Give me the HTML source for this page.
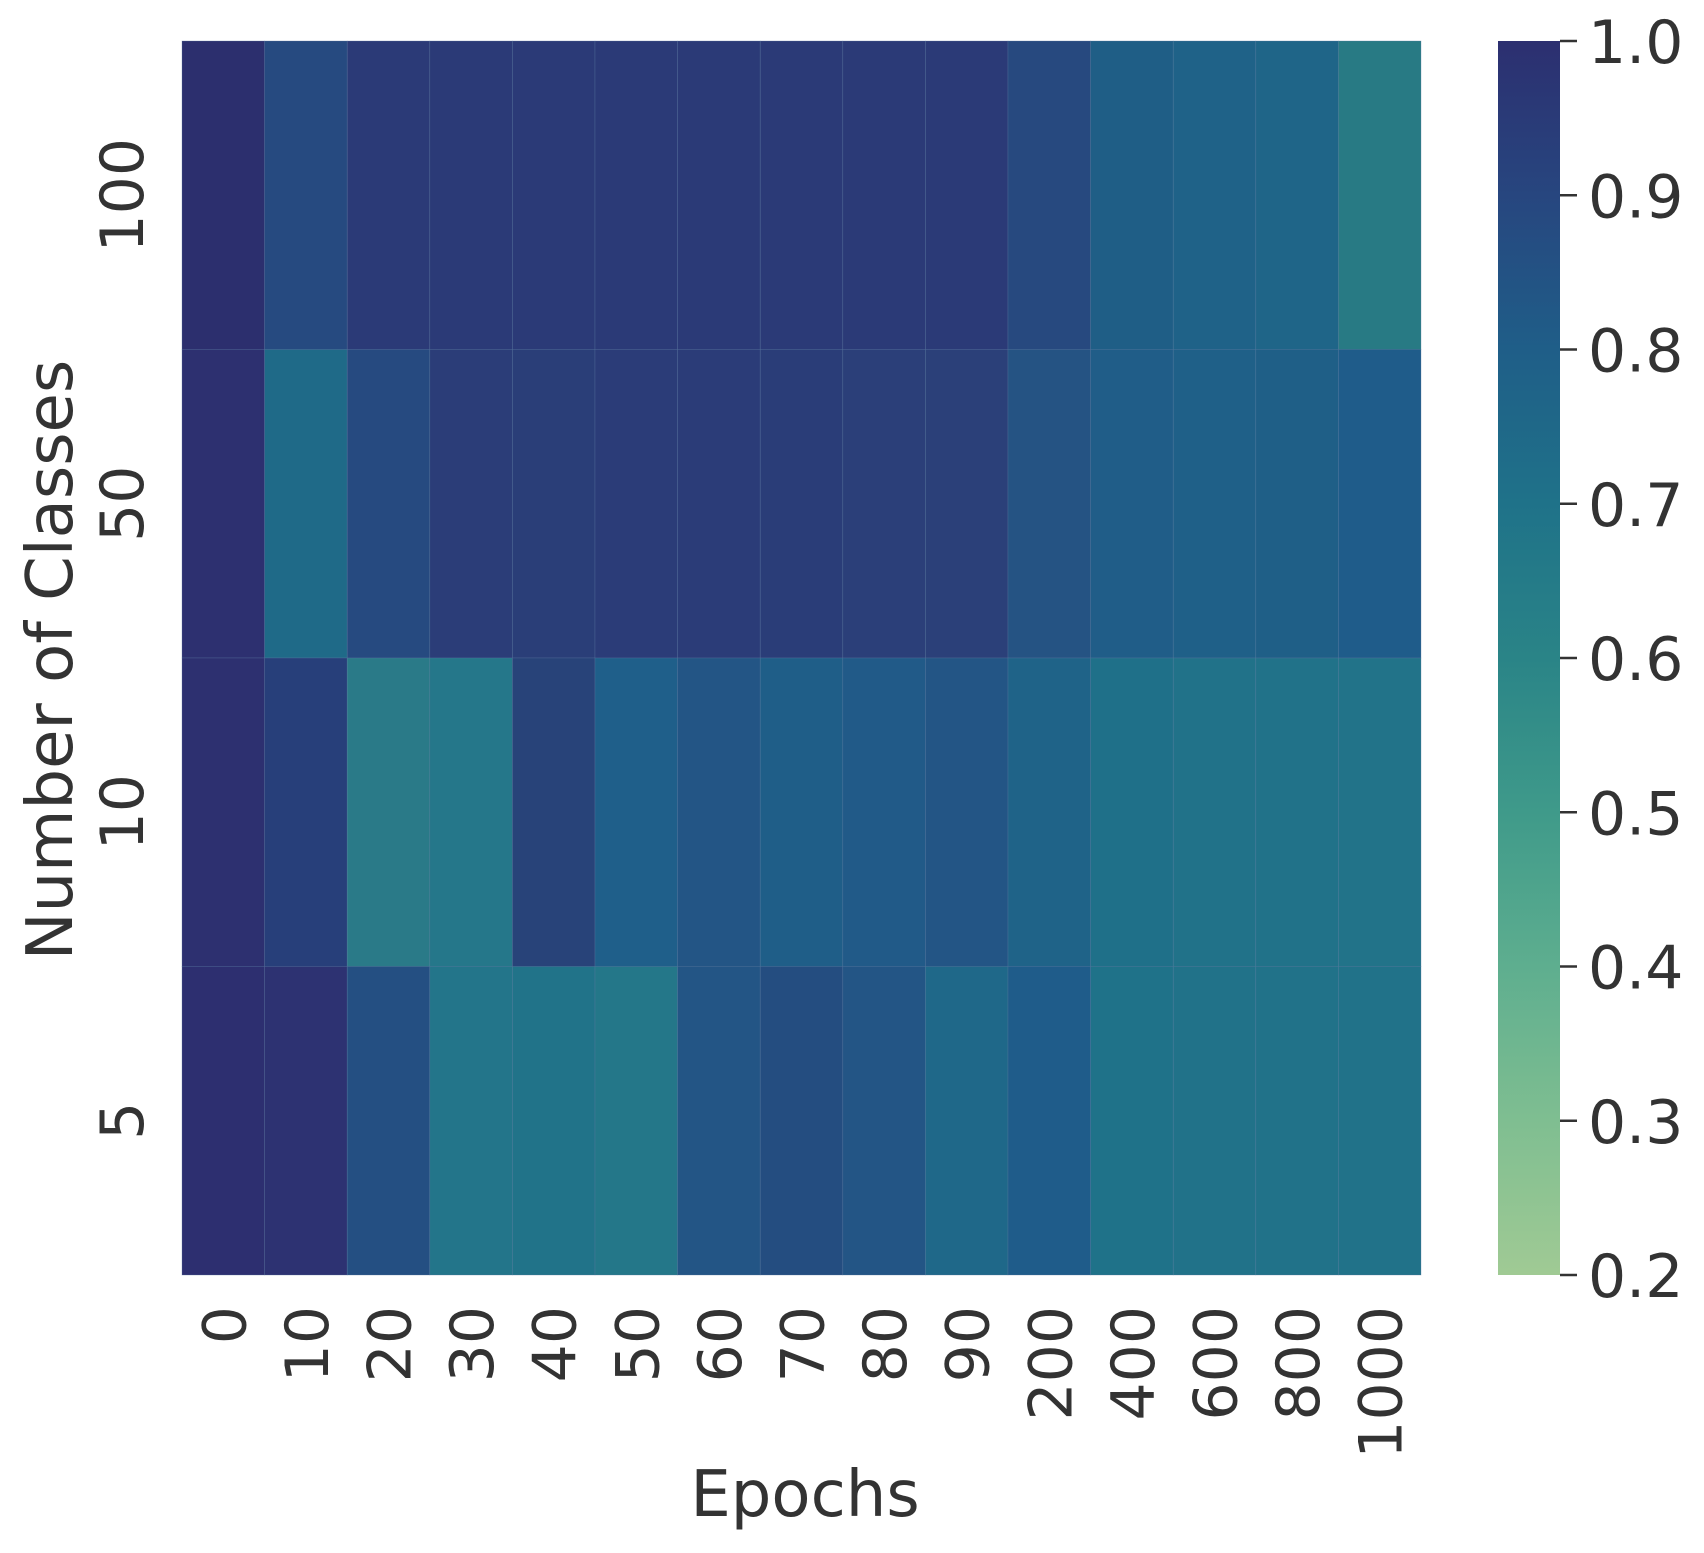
<!DOCTYPE html>
<html><head><meta charset="utf-8"><style>html,body{margin:0;padding:0;background:#fff}svg{display:block}</style></head>
<body>
<svg width="1704" height="1553" xmlns="http://www.w3.org/2000/svg" font-family="DejaVu Sans, Liberation Sans, sans-serif" fill="#333">
<defs>
<linearGradient id="cb" x1="0" y1="0" x2="0" y2="1">
<stop offset="0" stop-color="#2c2f70"/>
<stop offset="0.125" stop-color="#27467f"/>
<stop offset="0.25" stop-color="#1f5e88"/>
<stop offset="0.375" stop-color="#1f7289"/>
<stop offset="0.5" stop-color="#2a8487"/>
<stop offset="0.625" stop-color="#3f9a8a"/>
<stop offset="0.75" stop-color="#5eae8f"/>
<stop offset="0.875" stop-color="#7fbe91"/>
<stop offset="1" stop-color="#a0ca94"/>
</linearGradient>
</defs>
<g id="cells" stroke="#5a7aa0" stroke-width="0.6" stroke-opacity="0.5"></g>
<rect x="1498" y="41" width="62" height="1234" fill="url(#cb)"/>
<g id="cbt" stroke="#333" stroke-width="2.5"></g>
<g id="txt"></g>
<text x="805" y="1516" font-size="64" text-anchor="middle">Epochs</text>
<text transform="translate(72,660) rotate(-90)" font-size="64" text-anchor="middle">Number of Classes</text>
</svg>
<script>
var rows=[
["#2c2f6e","#264a80","#2b3a77","#2b3a77","#2b3a77","#2b3a77","#2b3a77","#2b3a77","#2b3a77","#2b3a77","#27497f","#1f5e86","#1f6288","#1f6588","#287a84"],
["#2d3070","#1f6a88","#264a80","#2b3d78","#2a3e78","#2b3c78","#2b3c78","#2a3d78","#2b3f79","#2b4079","#255383","#205d88","#1f6088","#1f5f87","#1f5c8a"],
["#2d3070","#273f7a","#2a7a88","#25778a","#284379","#1f5f8a","#235585","#1f5e88","#215a88","#235585","#1f6388","#1f7089","#217289","#217289","#227389"],
["#2d2f70","#2d3272","#244f82","#23758a","#217389","#247789","#235585","#244d80","#235585","#1f6889","#1f5c8a","#1f7289","#217289","#217289","#217289"]];
var ns="http://www.w3.org/2000/svg",X0=182,X1=1421,Y0=41,Y1=1275,cw=(X1-X0)/15,rh=(Y1-Y0)/4;
var g=document.getElementById('cells'),t=document.getElementById('txt');
function el(p,n,a,tx){var e=document.createElementNS(ns,n);for(var k in a)e.setAttribute(k,a[k]);if(tx)e.textContent=tx;p.appendChild(e);return e;}
for(var r=0;r<4;r++)for(var c=0;c<15;c++)el(g,'rect',{x:X0+c*cw,y:Y0+r*rh,width:cw,height:rh,fill:rows[r][c]});
var xl=["0","10","20","30","40","50","60","70","80","90","200","400","600","800","1000"];
xl.forEach(function(s,i){var cx=X0+(i+.5)*cw+22;el(t,'text',{transform:'translate('+cx+',1306) rotate(-90)','font-size':60,'text-anchor':'end'},s);});
var yl=["100","50","10","5"];
yl.forEach(function(s,i){var cy=Y0+(i+.5)*rh;el(t,'text',{transform:'translate(143,'+cy+') rotate(-90)','font-size':60,'text-anchor':'middle'},s);});
var cb=document.getElementById('cbt');
for(var i=0;i<=8;i++){var v=(1-i*0.1).toFixed(1),y=Y0+i*(Y1-Y0)/8;el(cb,'line',{x1:1560,x2:1577,y1:y,y2:y});el(t,'text',{x:1588,y:y+22,'font-size':60},v);}
</script>
</body></html>
